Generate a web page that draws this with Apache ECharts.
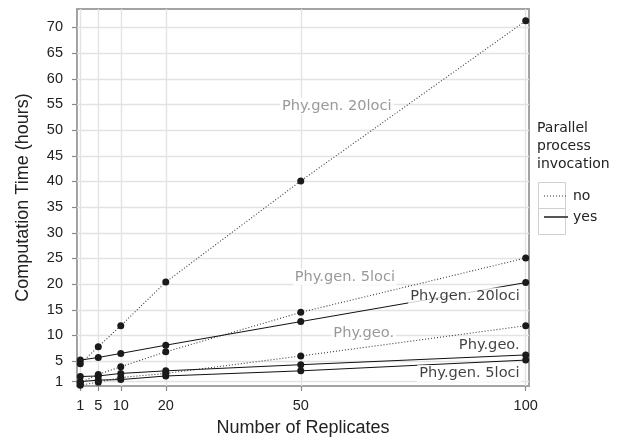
<!DOCTYPE html>
<html>
<head>
<meta charset="utf-8">
<script src="https://cdn.jsdelivr.net/npm/echarts@6/dist/echarts.min.js"></script>
<style>
html,body{margin:0;padding:0;background:#fff;}
#chart{width:624px;height:446px;}
</style>
</head>
<body>
<div id="chart"></div>
<script>
// ---- data ----
const replicates = [1, 5, 10, 20, 50, 100];
const noGen20  = [4.5, 7.8, 11.9, 20.4, 40.1, 71.3];
const yesGen20 = [5.2, 5.7, 6.5, 8.1, 12.7, 20.3];
const noGen5   = [0.8, 2.4, 3.9, 6.8, 14.5, 25.1];
const yesGen5  = [1.0, 1.3, 1.4, 2.1, 3.1, 5.2];
const noGeo    = [0.3, 0.9, 1.8, 2.6, 6.0, 11.9];
const yesGeo   = [2.0, 2.1, 2.6, 3.1, 4.3, 6.2];
const xTicks = [1, 5, 10, 20, 50, 100];
const yTicks = [1, 5, 10, 15, 20, 25, 30, 35, 40, 45, 50, 55, 60, 65, 70];
// series annotations (text placed in data coordinates)
const labelText  = ['Phy.gen. 20loci', 'Phy.gen. 5loci', 'Phy.geo.', 'Phy.gen. 20loci', 'Phy.geo.', 'Phy.gen. 5loci'];
const labelGroup = ['no', 'no', 'no', 'yes', 'yes', 'yes'];
const labelX     = [58.0, 59.8, 64.0, 86.5, 91.9, 87.5];
const labelY     = [54.7, 21.4, 10.4, 17.7, 8.1, 2.6];

const pairs = vals => replicates.map((r, i) => [r, vals[i]]);
const dottedStyle = { color: '#3a3a3a', width: 1.1, type: [1, 2] };
const solidStyle  = { color: '#111', width: 1 };

function lineSeries(name, vals, style) {
  return {
    type: 'line', name: name, data: pairs(vals),
    symbol: 'circle', symbolSize: 7, showSymbol: true,
    itemStyle: { color: '#1a1a1a' },
    lineStyle: style, z: name === 'yes' ? 3 : 2,
    clip: false, silent: true
  };
}

const chart = echarts.init(document.getElementById('chart'), null, { renderer: 'canvas' });
const tickFont = 'Liberation Sans, Arial, sans-serif';
chart.setOption({
  animation: false,
  backgroundColor: '#fff',
  grid: {
    left: 77, top: 9, right: 95, bottom: 60,
    show: true, borderColor: '#a3a3a3', borderWidth: 2, backgroundColor: '#fff',
    containLabel: false
  },
  xAxis: {
    type: 'value', min: 0.27, max: 100.73,
    name: 'Number of Replicates', nameLocation: 'middle', nameGap: 33,
    nameTextStyle: { fontFamily: tickFont, fontSize: 18, color: '#222' },
    axisLine: { show: false },
    axisTick: { show: true, customValues: xTicks, length: 5, lineStyle: { color: '#8a8a8a', width: 1.2 } },
    axisLabel: { customValues: xTicks, margin: 12, fontFamily: tickFont, fontSize: 14.5, color: '#222' },
    splitLine: { show: true, lineStyle: { color: '#e3e3e3', width: 1.4 } }
  },
  yAxis: {
    type: 'value', min: 0.15, max: 73.6,
    name: 'Computation Time (hours)', nameLocation: 'middle', nameGap: 45,
    nameTextStyle: { fontFamily: tickFont, fontSize: 18, color: '#222' },
    axisLine: { show: false },
    axisTick: { show: true, customValues: yTicks, length: 5, lineStyle: { color: '#8a8a8a', width: 1.2 } },
    axisLabel: { customValues: yTicks, margin: 14, fontFamily: tickFont, fontSize: 14.5, color: '#222' },
    splitLine: { show: true, lineStyle: { color: '#e3e3e3', width: 1.4 } }
  },
  legend: {
    data: [
      { name: 'no', lineStyle: { color: '#333', width: 1.1, type: [1, 2] } },
      { name: 'yes', lineStyle: { color: '#555', width: 2 } }
    ],
    orient: 'vertical', left: 538, top: 181,
    itemWidth: 24, itemHeight: 25, itemGap: 1,
    itemStyle: { opacity: 0 },
    textStyle: { fontFamily: 'DejaVu Sans', fontSize: 14, color: '#222' },
    selectedMode: false
  },
  graphic: [
    { type: 'text', left: 537, top: 119,
      style: { text: 'Parallel\nprocess\ninvocation', font: '14px "DejaVu Sans"', fill: '#222', lineHeight: 18 } },
    { type: 'rect', left: 536, top: 180, shape: { width: 27, height: 26 },
      style: { fill: 'none', stroke: '#d0d0d0', lineWidth: 1 }, z: -1 },
    { type: 'rect', left: 536, top: 206, shape: { width: 27, height: 26 },
      style: { fill: 'none', stroke: '#d0d0d0', lineWidth: 1 }, z: -1 }
  ],
  series: [
    lineSeries('no', noGen20, dottedStyle),
    lineSeries('no', noGen5, dottedStyle),
    lineSeries('no', noGeo, dottedStyle),
    lineSeries('yes', yesGen20, solidStyle),
    lineSeries('yes', yesGen5, solidStyle),
    lineSeries('yes', yesGeo, solidStyle),
    {
      type: 'scatter', name: 'annotations', symbol: 'circle', symbolSize: 0, z: 10, silent: true,
      data: labelText.map((t, i) => ({
        value: [labelX[i], labelY[i]],
        label: {
          show: true, position: 'inside', formatter: t,
          fontFamily: 'DejaVu Sans', fontSize: 14.6,
          color: labelGroup[i] === 'no' ? '#7f7f7f' : '#111',
          backgroundColor: '#fff', padding: [1, 2]
        }
      }))
    }
  ]
});
</script>
</body>
</html>
